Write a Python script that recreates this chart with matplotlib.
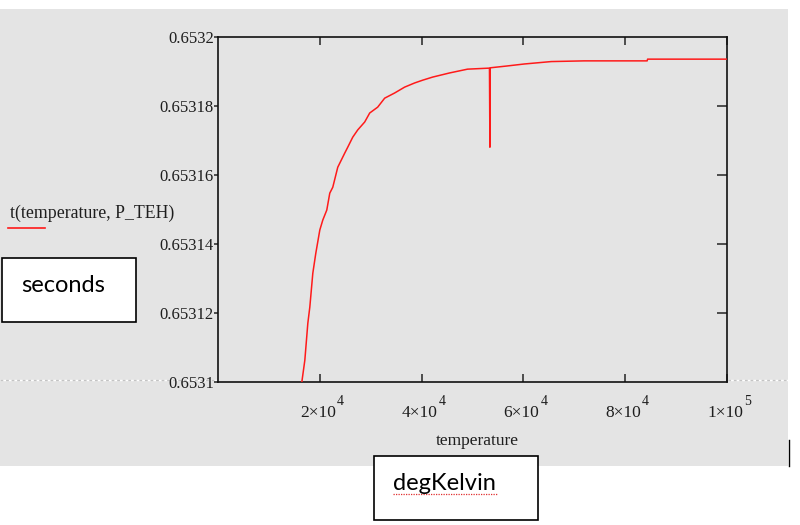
import matplotlib
matplotlib.use("Agg")
import matplotlib.pyplot as plt
from matplotlib.patches import Rectangle
from matplotlib.lines import Line2D

# curve (temperature in K, t in seconds)
temperature = [16471, 17059, 17647, 18039, 18627, 19216, 20000, 20588, 21373,
               21961, 22549, 23529, 24902, 25490, 26471, 27451, 28824, 29804,
               31373, 32745, 34706, 36667, 38627, 40196, 42157, 45490, 49020,
               53333, 53420, 53480, 53540, 56667, 60196, 65490, 71961, 84314,
               84400, 100000]
t_vals = [0.6531000, 0.6531063, 0.6531170, 0.6531217, 0.6531315, 0.6531373,
          0.6531440, 0.6531469, 0.6531498, 0.6531547, 0.6531564, 0.6531622,
          0.6531663, 0.6531680, 0.6531709, 0.6531730, 0.6531753, 0.6531779,
          0.6531796, 0.6531822, 0.6531837, 0.6531854, 0.6531866, 0.6531874,
          0.6531883, 0.6531895, 0.6531906, 0.6531909, 0.6531680, 0.6531909,
          0.6531910, 0.6531915, 0.6531921, 0.6531928, 0.6531930, 0.6531930,
          0.6531935, 0.6531935]

y_ticks = [0.6531, 0.65312, 0.65314, 0.65316, 0.65318, 0.6532]
y_labels = ["0.6531", "0.65312", "0.65314", "0.65316", "0.65318", "0.6532"]
x_ticks = [20000, 40000, 60000, 80000, 100000]
x_mant = ["2×10", "4×10", "6×10", "8×10", "1×10"]
x_exp = ["4", "4", "4", "4", "5"]

W, H = 800, 525
BG = "#e4e4e4"
INK = "#1e1e1e"
serif = "Liberation Serif"


def px(x, y):
    # pixel position (from top-left) -> figure fraction
    return x / W, 1 - y / H


fig = plt.figure(figsize=(8, 5.25), dpi=100)
fig.patch.set_facecolor("white")

# grey panel behind the chart
fig.patches.append(Rectangle(px(0, 466), 788 / W, 457 / H, transform=fig.transFigure,
                             facecolor=BG, edgecolor="none", zorder=0))

ax = fig.add_axes([218 / W, 1 - 382 / H, 509 / W, 345.3 / H])
ax.set_facecolor(BG)
ax.plot(temperature, t_vals, color="#ff1a1a", lw=1.1, zorder=3)
ax.set_xlim(0, 100000)
ax.set_ylim(0.6531, 0.6532)

# x tick labels as mantissa + full-size raised exponent
ax.set_xticks(x_ticks)
ax.set_xticklabels([])
for xt, m, e in zip(x_ticks, x_mant, x_exp):
    ax.annotate(m, xy=(xt, 0), xycoords=("data", "axes fraction"),
                xytext=(16, -35), textcoords="offset pixels", ha="right",
                va="baseline", fontfamily=serif, fontsize=12.5, color=INK)
    ax.annotate(e, xy=(xt, 0), xycoords=("data", "axes fraction"),
                xytext=(17, -23), textcoords="offset pixels", ha="left",
                va="baseline", fontfamily=serif, fontsize=10, color=INK)

ax.set_yticks(y_ticks)
ax.set_yticklabels(y_labels)
for lab in ax.get_yticklabels():
    lab.set_fontfamily(serif)
    lab.set_fontsize(12)
    lab.set_color(INK)

ax.tick_params(axis="x", direction="in", length=6, width=1.2, color="#333333",
               top=True)
ax.tick_params(axis="y", left=True, right=False, direction="out",
               length=3, width=1.2, color="#333333", pad=0)
# inner ticks on the right side
ax_r = ax.secondary_yaxis("right")
ax_r.set_yticks(y_ticks[1:-1])
ax_r.set_yticklabels([])
ax_r.tick_params(direction="in", length=7, width=1.2, color="#333333")
ax_r.spines["right"].set_visible(False)

for s in ax.spines.values():
    s.set_linewidth(1.2)
    s.set_color("#111111")

ax.set_xlabel("temperature", fontfamily=serif, fontsize=12.5, color=INK)
ax.xaxis.set_label_coords(0.509, -0.148)

# dashed guide line across the panel
fig.add_artist(Line2D([0, 788 / W], [1 - 379.5 / H] * 2, transform=fig.transFigure,
                      color="white", lw=1.0, zorder=1))
fig.add_artist(Line2D([0, 788 / W], [1 - 379.5 / H] * 2, transform=fig.transFigure,
                      color="#c4c4c4", lw=1.0, ls=(0, (2, 2)), zorder=1))
ax.set_zorder(2)

# legend text
fig.text(*px(10, 213), "t(temperature, P_TEH)", fontfamily=serif, fontsize=12.8,
         color=INK, va="center", ha="left")
fig.add_artist(Line2D([8 / W, 45 / W], [1 - 228 / H] * 2, transform=fig.transFigure,
                      color="#ff1a1a", lw=1.2))

# unit boxes
fig.patches.append(Rectangle(px(2, 322), 134 / W, 64 / H, transform=fig.transFigure,
                             facecolor="white", edgecolor="black", lw=1.2, zorder=5))
fig.text(*px(21, 286), "seconds", fontfamily="Lato", fontsize=17, va="center",
         ha="left", zorder=6)

fig.patches.append(Rectangle(px(374, 520), 164 / W, 64 / H, transform=fig.transFigure,
                             facecolor="white", edgecolor="black", lw=1.2, zorder=5))
fig.text(*px(393, 483), "degKelvin", fontfamily="Lato", fontsize=17, va="center",
         ha="left", zorder=6)
fig.add_artist(Line2D([393 / W, 497 / W], [1 - 494 / H] * 2, transform=fig.transFigure,
                      color="#e03030", lw=0.9, ls=(0, (1, 1)), zorder=6))

# small tick at the panel's right edge
fig.add_artist(Line2D([789 / W] * 2, [1 - 440 / H, 1 - 466 / H], transform=fig.transFigure,
                      color="black", lw=1.0))

fig.savefig("out.png", dpi=100)
